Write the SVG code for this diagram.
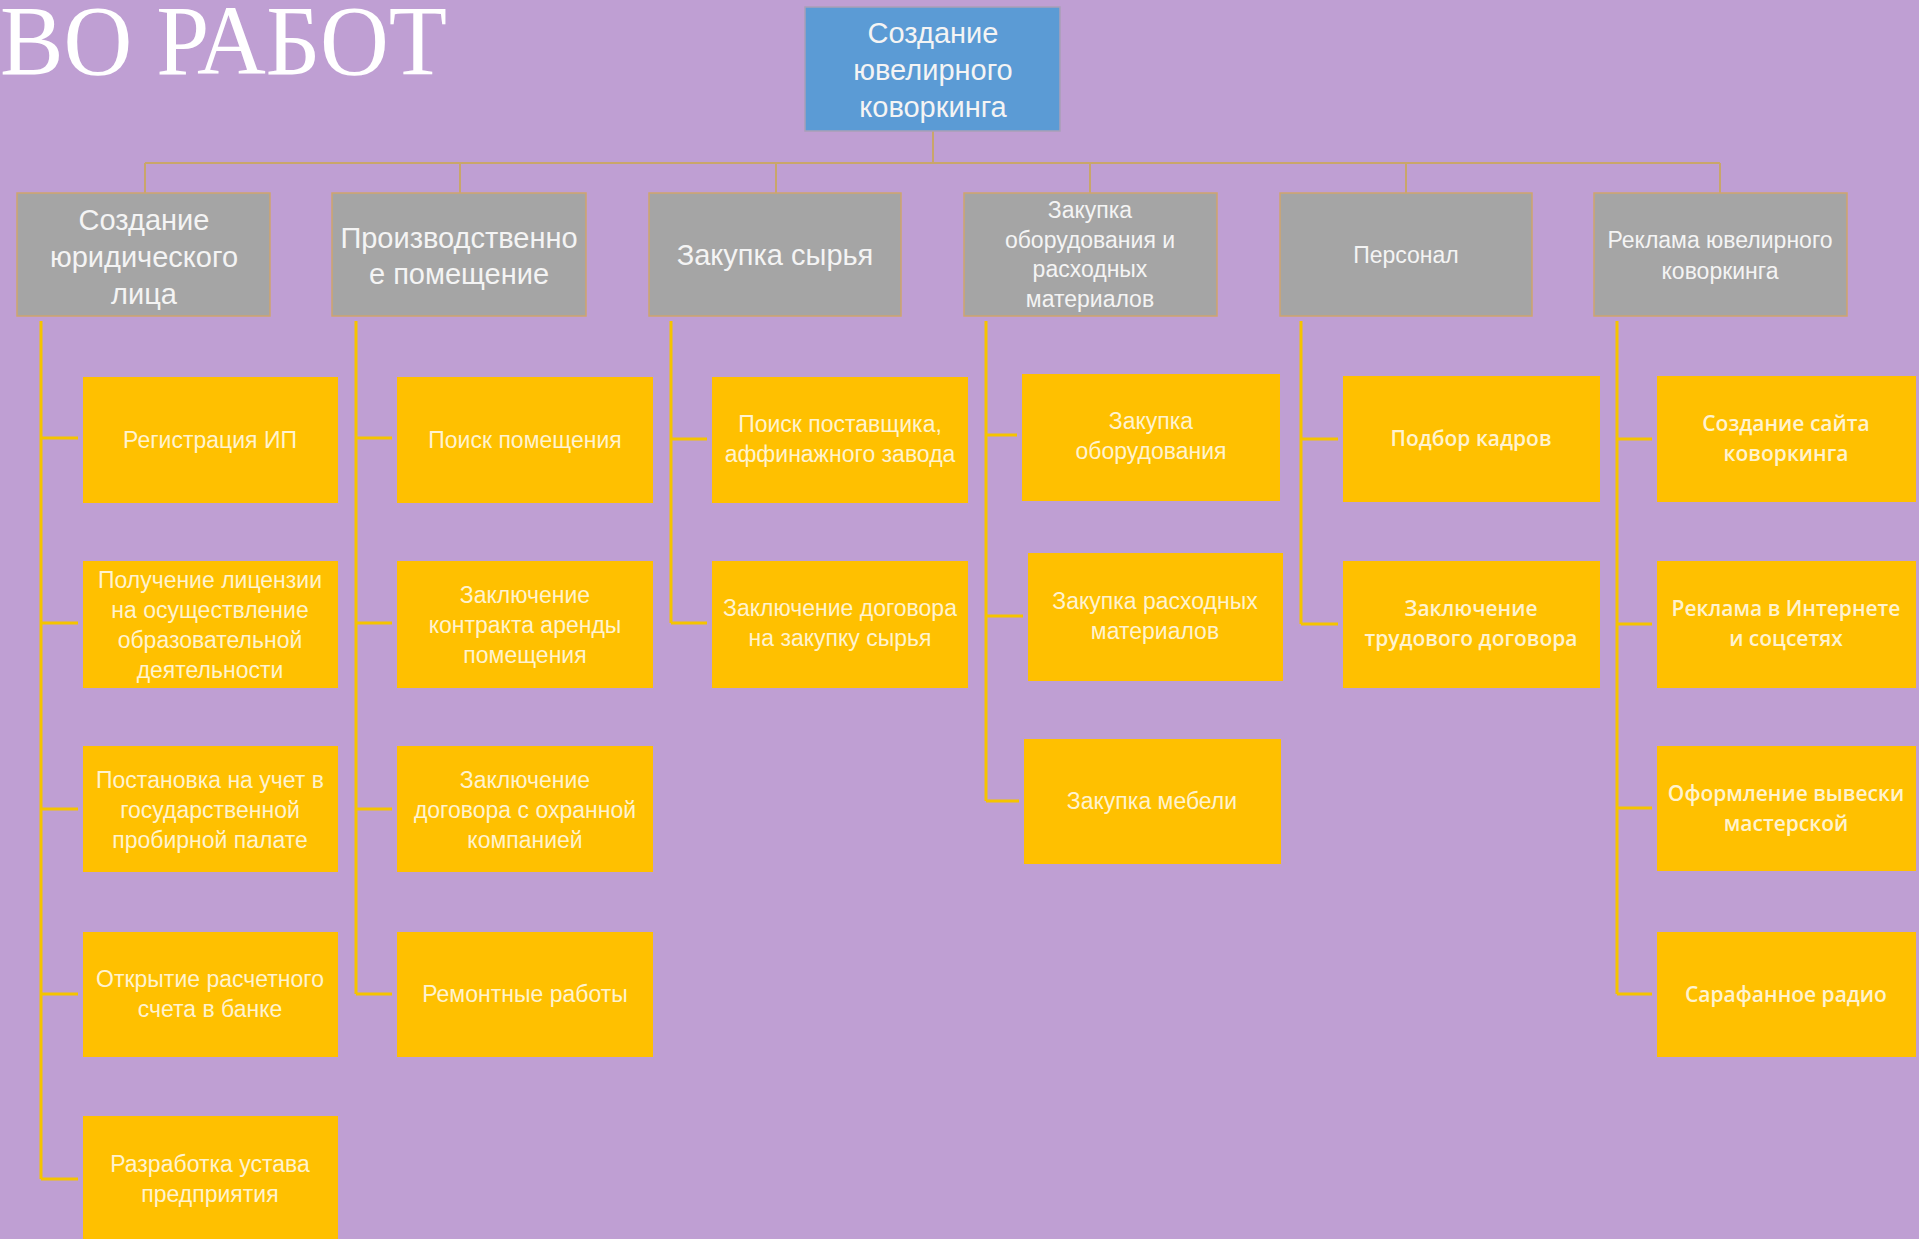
<svg xmlns="http://www.w3.org/2000/svg" width="1919" height="1239" viewBox="0 0 1919 1239">
<style>
.bg{fill:#bf9fd3}
.root{fill:#5b9bd5;stroke:#a9a0b8;stroke-width:1.5}
.cat{fill:#a5a5a5;stroke:#cfa56e;stroke-width:1.5}
.task{fill:#ffc000}
.tl{fill:none;stroke:#c9a66a;stroke-width:2}
.br{fill:none;stroke:#f5c400;stroke-width:3}
.rt{font-family:"Liberation Sans",Arial,sans-serif;font-size:29px;fill:#f4f4f4;text-anchor:middle}
.ct{font-family:"Liberation Sans",Arial,sans-serif;font-size:29px;fill:#f4f4f4;text-anchor:middle}
.cs{font-family:"Liberation Sans",Arial,sans-serif;font-size:23px;fill:#f4f4f4;text-anchor:middle}
.yt{font-family:"Liberation Sans",Arial,sans-serif;font-size:23px;fill:#fff3cf;text-anchor:middle}
.yo{font-family:"Open Sans","Noto Sans",sans-serif;font-weight:600;font-size:21px;fill:#fff3cf;text-anchor:middle}
.title{font-family:"Liberation Serif","Times New Roman",serif;font-size:100px;fill:#ffffff}
</style>
<rect class="bg" x="0" y="0" width="1919" height="1239"/>
<text class="title" x="0" y="74" textLength="447" lengthAdjust="spacingAndGlyphs">ВО РАБОТ</text>

<g id="connectors">
  <path class="tl" d="M933 131V163M145 163H1720M145 163V193M460 163V193M776 163V193M1090 163V193M1406 163V193M1720 163V193"/>
  <path class="br" d="M41 321V1179M41 438H78M41 623H78M41 809H78M41 994H78M41 1179H78"/>
  <path class="br" d="M356 321V994M356 438H392M356 623H392M356 809H392M356 994H392"/>
  <path class="br" d="M671 321V623M671 439H707M671 623H707"/>
  <path class="br" d="M986 321V801M986 435H1017M986 616H1023M986 801H1019"/>
  <path class="br" d="M1301 321V624M1301 439H1338M1301 624H1338"/>
  <path class="br" d="M1617 321V994M1617 439H1652M1617 624H1652M1617 808H1652M1617 994H1652"/>
</g>

<g id="root">
  <rect class="root" x="805" y="7" width="255" height="124"/>
  <text class="rt" x="933" y="43">Создание</text>
  <text class="rt" x="933" y="80">ювелирного</text>
  <text class="rt" x="933" y="117">коворкинга</text>
</g>

<g id="cat1">
  <rect class="cat" x="17" y="193" width="253" height="123"/>
  <text class="ct" x="144" y="230">Создание</text>
  <text class="ct" x="144" y="267">юридического</text>
  <text class="ct" x="144" y="304">лица</text>
</g>
<g id="cat2">
  <rect class="cat" x="332" y="193" width="254" height="123"/>
  <text class="ct" x="459" y="248">Производственно</text>
  <text class="ct" x="459" y="284">е помещение</text>
</g>
<g id="cat3">
  <rect class="cat" x="649" y="193" width="252" height="123"/>
  <text class="ct" x="775" y="265">Закупка сырья</text>
</g>
<g id="cat4">
  <rect class="cat" x="964" y="193" width="253" height="123"/>
  <text class="cs" x="1090" y="218">Закупка</text>
  <text class="cs" x="1090" y="248">оборудования и</text>
  <text class="cs" x="1090" y="277">расходных</text>
  <text class="cs" x="1090" y="307">материалов</text>
</g>
<g id="cat5">
  <rect class="cat" x="1280" y="193" width="252" height="123"/>
  <text class="cs" x="1406" y="263">Персонал</text>
</g>
<g id="cat6">
  <rect class="cat" x="1594" y="193" width="253" height="123"/>
  <text class="cs" x="1720" y="248">Реклама ювелирного</text>
  <text class="cs" x="1720" y="279">коворкинга</text>
</g>

<!-- column 1 -->
<g id="t1-1"><rect class="task" x="83" y="377" width="255" height="126"/>
  <text class="yt" x="210" y="448">Регистрация ИП</text></g>
<g id="t1-2"><rect class="task" x="83" y="561" width="255" height="127"/>
  <text class="yt" x="210" y="588">Получение лицензии</text>
  <text class="yt" x="210" y="618">на осуществление</text>
  <text class="yt" x="210" y="648">образовательной</text>
  <text class="yt" x="210" y="678">деятельности</text></g>
<g id="t1-3"><rect class="task" x="83" y="746" width="255" height="126"/>
  <text class="yt" x="210" y="788">Постановка на учет в</text>
  <text class="yt" x="210" y="818">государственной</text>
  <text class="yt" x="210" y="848">пробирной палате</text></g>
<g id="t1-4"><rect class="task" x="83" y="932" width="255" height="125"/>
  <text class="yt" x="210" y="987">Открытие расчетного</text>
  <text class="yt" x="210" y="1017">счета в банке</text></g>
<g id="t1-5"><rect class="task" x="83" y="1116" width="255" height="130"/>
  <text class="yt" x="210" y="1172">Разработка устава</text>
  <text class="yt" x="210" y="1202">предприятия</text></g>

<!-- column 2 -->
<g id="t2-1"><rect class="task" x="397" y="377" width="256" height="126"/>
  <text class="yt" x="525" y="448">Поиск помещения</text></g>
<g id="t2-2"><rect class="task" x="397" y="561" width="256" height="127"/>
  <text class="yt" x="525" y="603">Заключение</text>
  <text class="yt" x="525" y="633">контракта аренды</text>
  <text class="yt" x="525" y="663">помещения</text></g>
<g id="t2-3"><rect class="task" x="397" y="746" width="256" height="126"/>
  <text class="yt" x="525" y="788">Заключение</text>
  <text class="yt" x="525" y="818">договора с охранной</text>
  <text class="yt" x="525" y="848">компанией</text></g>
<g id="t2-4"><rect class="task" x="397" y="932" width="256" height="125"/>
  <text class="yt" x="525" y="1002">Ремонтные работы</text></g>

<!-- column 3 -->
<g id="t3-1"><rect class="task" x="712" y="377" width="256" height="126"/>
  <text class="yt" x="840" y="432">Поиск поставщика,</text>
  <text class="yt" x="840" y="462">аффинажного завода</text></g>
<g id="t3-2"><rect class="task" x="712" y="561" width="256" height="127"/>
  <text class="yt" x="840" y="616">Заключение договора</text>
  <text class="yt" x="840" y="646">на закупку сырья</text></g>

<!-- column 4 -->
<g id="t4-1"><rect class="task" x="1022" y="374" width="258" height="127"/>
  <text class="yt" x="1151" y="429">Закупка</text>
  <text class="yt" x="1151" y="459">оборудования</text></g>
<g id="t4-2"><rect class="task" x="1028" y="553" width="255" height="128"/>
  <text class="yt" x="1155" y="609">Закупка расходных</text>
  <text class="yt" x="1155" y="639">материалов</text></g>
<g id="t4-3"><rect class="task" x="1024" y="739" width="257" height="125"/>
  <text class="yt" x="1152" y="809">Закупка мебели</text></g>

<!-- column 5 -->
<g id="t5-1"><rect class="task" x="1343" y="376" width="257" height="126"/>
  <text class="yo" x="1471" y="446">Подбор кадров</text></g>
<g id="t5-2"><rect class="task" x="1343" y="561" width="257" height="127"/>
  <text class="yo" x="1471" y="616">Заключение</text>
  <text class="yo" x="1471" y="646">трудового договора</text></g>

<!-- column 6 -->
<g id="t6-1"><rect class="task" x="1657" y="376" width="259" height="126"/>
  <text class="yo" x="1786" y="431">Создание сайта</text>
  <text class="yo" x="1786" y="461">коворкинга</text></g>
<g id="t6-2"><rect class="task" x="1657" y="561" width="259" height="127"/>
  <text class="yo" x="1786" y="616">Реклама в Интернете</text>
  <text class="yo" x="1786" y="646">и соцсетях</text></g>
<g id="t6-3"><rect class="task" x="1657" y="746" width="259" height="125"/>
  <text class="yo" x="1786" y="801">Оформление вывески</text>
  <text class="yo" x="1786" y="831">мастерской</text></g>
<g id="t6-4"><rect class="task" x="1657" y="932" width="259" height="125"/>
  <text class="yo" x="1786" y="1002">Сарафанное радио</text></g>
</svg>
